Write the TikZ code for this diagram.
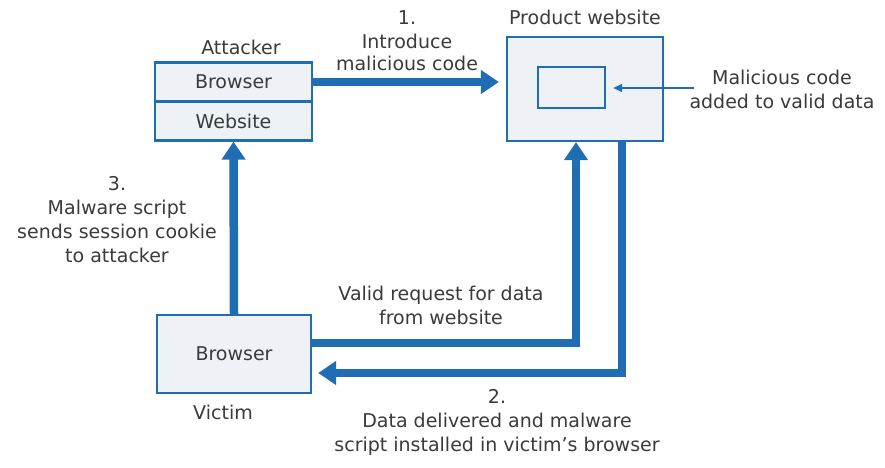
\documentclass[tikz,border=0pt]{standalone}
\usepackage{fontspec}
\setmainfont{DejaVu Sans}
\usepackage{tikz}
\usetikzlibrary{positioning,arrows.meta,calc}
\definecolor{xssblue}{HTML}{1F6DB3}
\definecolor{xssfill}{HTML}{EEF1F6}
\definecolor{xsstext}{HTML}{3A3A3A}

\begin{document}
\begin{tikzpicture}[
  x=1pt, y=-1pt,
  font=\fontsize{19}{24}\selectfont, text=xsstext,
  box/.style={draw=xssblue, line width=2.3pt, fill=xssfill, inner sep=0pt},
  big/.style={-{Triangle[length=18pt,width=23pt]}, line width=8.5pt, draw=xssblue},
  thin/.style={-{Triangle[length=9pt,width=8pt]}, line width=1.4pt, draw=xssblue},
  lab/.style={align=center, inner sep=0pt},
]
\useasboundingbox (0,0) rectangle (885,467);
% attacker side
\node[box, minimum width=157pt, minimum height=39pt] (ab) at (233.5,82) {Browser};
\node[box, minimum width=157pt, minimum height=39pt] (aw) at (233.5,121) {Website};
\node[lab] (att) at (241,47) {Attacker};
% product website
\node[box, minimum width=156pt, minimum height=104pt] (pw) at (585,89) {};
\node[box, minimum width=67pt, minimum height=41pt] (mc) at (571.5,87.5) {};
\node[lab] (pwl) at (585,17) {Product website};
% victim
\node[box, minimum width=154pt, minimum height=78pt] (vb) at (234,354) {Browser};
\node[lab] (vic) at (223,412) {Victim};
% connectors
\draw[big, shorten >=7pt] (ab.east) -- (ab.east -| pw.west);
\draw[big] (vb.north) -- (aw.south);
\draw[big] ([yshift=11pt]vb.east) -| ([xshift=-9pt]pw.south);
\draw[big, shorten >=6pt] ([xshift=37pt]pw.south) |- ([yshift=-19pt]vb.east);
\coordinate (note) at (694,88);
\draw[thin, shorten >=7pt] (note) -- (mc.east |- note);
% labels
\node[lab] (l1) at (407,41) {1.\\Introduce\\[-2pt]malicious code};
\node[lab] (l4) at (782,89) {Malicious code\\added to valid data};
\node[lab] (l3) at (117,220) {3.\\Malware script\\sends session cookie\\to attacker};
\node[lab] (lr) at (441,305) {Valid request for data\\from website};
\node[lab] (l2) at (497,422) {2.\\Data delivered and malware\\script installed in victim’s browser};
\end{tikzpicture}
\end{document}
